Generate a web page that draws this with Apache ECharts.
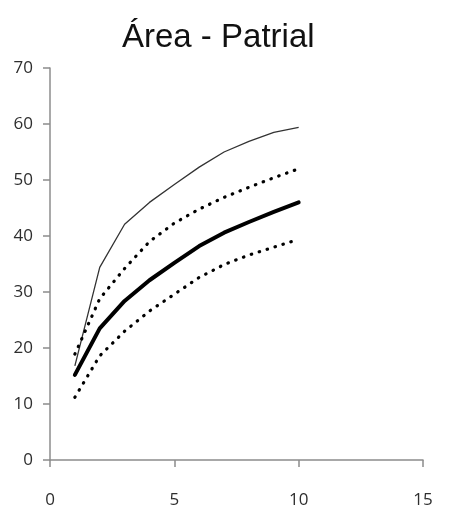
<!DOCTYPE html>
<html>
<head>
<meta charset="utf-8">
<script src="https://cdn.jsdelivr.net/npm/echarts@6/dist/echarts.min.js"></script>
<style>
  html, body { margin: 0; padding: 0; background: #fff; }
  #chart { width: 458px; height: 509px; }
</style>
</head>
<body>
<div id="chart"></div>
<script>
// Sample counts (x) and the estimated area curves
const xValues = [1, 2, 3, 4, 5, 6, 7, 8, 9, 10];
const upperThin = [16.8, 34.4, 42.1, 46.0, 49.2, 52.3, 55.0, 56.9, 58.5, 59.4];
const upperBand = [18.9, 28.8, 34.2, 39.0, 42.3, 44.8, 46.9, 48.7, 50.4, 52.0];
const mean      = [15.2, 23.5, 28.4, 32.1, 35.2, 38.2, 40.6, 42.5, 44.3, 46.0];
const lowerBand = [11.2, 18.6, 23.0, 26.6, 29.6, 32.6, 34.9, 36.6, 38.0, 39.4];

const pairs = (ys) => xValues.map((x, i) => [x, ys[i]]);

const axisColor = '#8c8c8c';
const labelStyle = { color: '#2e2e2e', fontSize: 17, fontFamily: 'Open Sans' };

const chart = echarts.init(document.getElementById('chart'), null, { renderer: 'canvas' });
chart.setOption({
  animation: false,
  backgroundColor: '#fff',
  title: {
    text: 'Área - Patrial',
    left: 117,
    top: 16,
    textStyle: { fontFamily: 'Liberation Sans', fontWeight: 'normal', fontSize: 33, color: '#111' }
  },
  grid: { left: 50, right: 35, top: 68, bottom: 48, containLabel: false },
  xAxis: {
    type: 'value',
    min: 0, max: 15, interval: 5,
    splitLine: { show: false },
    axisLine: { lineStyle: { color: axisColor, width: 1.5 } },
    axisTick: { show: true, length: 7, lineStyle: { color: axisColor, width: 1.5 } },
    axisLabel: Object.assign({ margin: 32 }, labelStyle)
  },
  yAxis: {
    type: 'value',
    min: 0, max: 70, interval: 10,
    splitLine: { show: false },
    axisLine: { show: true, lineStyle: { color: axisColor, width: 1.5 } },
    axisTick: { show: true, length: 7, lineStyle: { color: axisColor, width: 1.5 } },
    axisLabel: Object.assign({ margin: 17 }, labelStyle)
  },
  series: [
    {
      type: 'line', data: pairs(upperThin), showSymbol: false,
      lineStyle: { color: '#333', width: 1.3 }
    },
    {
      type: 'line', data: pairs(upperBand), showSymbol: false,
      lineStyle: { color: '#000', width: 3.2, type: [0.5, 7.8], cap: 'round' }
    },
    {
      type: 'line', data: pairs(mean), showSymbol: false,
      lineStyle: { color: '#000', width: 4, cap: 'round' }
    },
    {
      type: 'line', data: pairs(lowerBand), showSymbol: false,
      lineStyle: { color: '#000', width: 3.2, type: [0.5, 7.8], cap: 'round' }
    }
  ]
});
</script>
</body>
</html>
